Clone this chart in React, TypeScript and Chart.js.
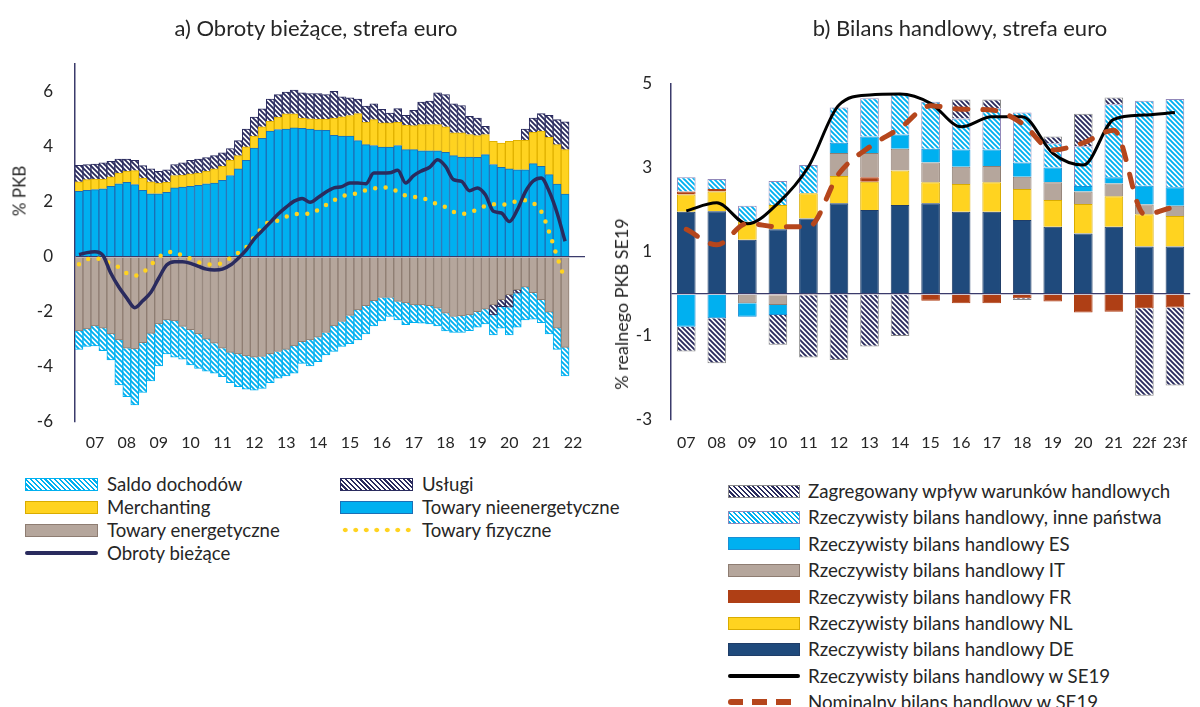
import React, { useEffect, useRef } from 'react';
import { Chart, registerables } from 'chart.js';
Chart.register(...registerables);

const FONT = 'Lato, "Open Sans", sans-serif';
const TEXT = '#262626';
const NAVY = '#2A2B5E';
const CYAN = '#00B0F0';
const YELLOW = '#FFD320';
const TAUPE = '#B5A69C';
const RUST = '#AF3F15';
const DEBLUE = '#1F4A7C';
const AXIS = '#3B3B6B';

// ---------- Panel a) ----------
const LEFT_YEAR_LABELS = ['07', '08', '09', '10', '11', '12', '13', '14', '15', '16', '17', '18', '19', '20', '21', '22'];
const QUARTERS = ['Q1', 'Q2', 'Q3', 'Q4'];
const LEFT_CATEGORIES = LEFT_YEAR_LABELS.flatMap((y) => QUARTERS.map((q) => `${y} ${q}`));
const LEFT_Y_TICKS = [-6, -4, -2, 0, 2, 4, 6];

const NON_ENERGY = [2.38, 2.41, 2.44, 2.47, 2.56, 2.65, 2.70, 2.62, 2.41, 2.29, 2.29, 2.34, 2.50, 2.53, 2.56, 2.59, 2.65, 2.68, 2.78, 2.95, 3.19, 3.50, 3.95, 4.30, 4.56, 4.62, 4.64, 4.68, 4.66, 4.64, 4.60, 4.59, 4.41, 4.38, 4.38, 4.22, 4.07, 4.04, 3.98, 3.98, 4.04, 3.89, 3.89, 3.85, 3.85, 3.85, 3.79, 3.67, 3.62, 3.62, 3.61, 3.71, 3.35, 3.25, 3.19, 3.16, 3.16, 3.38, 3.28, 2.98, 2.64, 2.28];
const MERCHANTING = [0.34, 0.39, 0.38, 0.35, 0.34, 0.39, 0.40, 0.51, 0.45, 0.43, 0.39, 0.36, 0.45, 0.44, 0.45, 0.45, 0.45, 0.51, 0.50, 0.55, 0.48, 0.49, 0.43, 0.42, 0.36, 0.45, 0.55, 0.51, 0.38, 0.37, 0.40, 0.41, 0.63, 0.70, 0.75, 0.98, 0.81, 0.94, 0.88, 0.88, 0.84, 0.89, 0.87, 0.95, 0.95, 0.95, 0.93, 0.83, 0.88, 0.82, 0.79, 0.73, 0.84, 0.88, 1.00, 1.07, 1.07, 1.14, 1.28, 1.36, 1.43, 1.61];
const SERVICES = [0.60, 0.55, 0.55, 0.59, 0.57, 0.51, 0.45, 0.37, 0.45, 0.47, 0.42, 0.46, 0.40, 0.44, 0.49, 0.51, 0.50, 0.48, 0.49, 0.43, 0.55, 0.65, 0.69, 0.65, 0.81, 0.82, 0.79, 0.86, 0.91, 0.92, 0.93, 0.89, 0.97, 0.73, 0.64, 0.53, 0.59, 0.57, 0.49, 0.36, 0.50, 0.36, 0.56, 0.82, 0.85, 1.15, 1.17, 1.05, 0.99, 0.66, 0.64, 0.30, -0.36, -0.25, -0.45, -0.12, 0.41, 0.52, 0.64, 0.80, 0.91, 1.01];
const ENERGY = [-2.69, -2.62, -2.51, -2.59, -2.80, -3.02, -3.32, -3.35, -3.12, -2.78, -2.44, -2.29, -2.33, -2.53, -2.65, -2.80, -2.99, -3.14, -3.32, -3.47, -3.53, -3.60, -3.65, -3.62, -3.53, -3.44, -3.36, -3.24, -3.08, -3.02, -2.92, -2.75, -2.51, -2.35, -2.13, -1.93, -1.78, -1.59, -1.48, -1.48, -1.62, -1.68, -1.75, -1.75, -1.78, -1.87, -2.05, -2.17, -2.15, -2.11, -1.99, -1.90, -1.75, -1.56, -1.38, -1.20, -1.10, -1.30, -1.56, -2.01, -2.59, -3.29];
const PRIMARY_INCOME = [-0.67, -0.64, -0.73, -0.82, -0.95, -1.63, -1.76, -2.03, -1.81, -1.73, -1.52, -1.24, -1.32, -1.19, -1.28, -1.25, -1.16, -1.09, -1.03, -1.10, -1.19, -1.21, -1.19, -1.16, -1.04, -0.97, -0.97, -0.99, -0.79, -0.94, -0.89, -0.81, -0.93, -0.91, -1.03, -1.09, -1.02, -0.92, -0.85, -0.69, -0.67, -0.79, -0.64, -0.66, -0.66, -0.64, -0.64, -0.58, -0.60, -0.57, -0.57, -0.54, -0.73, -0.78, -1.01, -1.24, -1.19, -0.97, -0.83, -0.79, -0.77, -1.04];
const CURRENT_ACCOUNT = [0.08, 0.15, 0.18, 0.05, -0.6, -1.1, -1.5, -1.85, -1.6, -1.3, -0.78, -0.3, -0.18, -0.18, -0.24, -0.35, -0.45, -0.48, -0.45, -0.3, -0.05, 0.25, 0.65, 0.95, 1.25, 1.55, 1.8, 2.02, 2.12, 1.98, 2.15, 2.35, 2.5, 2.55, 2.68, 2.68, 2.65, 3.04, 3.04, 3.05, 3.14, 2.68, 2.95, 3.12, 3.25, 3.52, 3.28, 2.8, 2.74, 2.4, 2.5, 2.25, 1.65, 1.59, 1.28, 1.7, 2.35, 2.75, 2.86, 2.38, 1.59, 0.56];
const PHYSICAL_GOODS = [-0.27, -0.1, -0.05, -0.12, -0.25, -0.38, -0.6, -0.68, -0.58, -0.3, -0.02, 0.15, 0.18, 0.02, -0.07, -0.2, -0.27, -0.28, -0.22, -0.05, 0.15, 0.35, 0.72, 1.06, 1.28, 1.31, 1.45, 1.55, 1.56, 1.56, 1.7, 1.88, 2.05, 2.2, 2.25, 2.32, 2.42, 2.48, 2.52, 2.51, 2.36, 2.22, 2.18, 2.14, 2.04, 1.9, 1.8, 1.63, 1.56, 1.6, 1.72, 1.85, 1.91, 1.88, 1.95, 2.02, 2.05, 1.95, 1.65, 0.9, 0.0, -0.85];

// ---------- Panel b) ----------
const RIGHT_YEARS = ['07', '08', '09', '10', '11', '12', '13', '14', '15', '16', '17', '18', '19', '20', '21', '22f', '23f'];
const RIGHT_Y_TICKS = [-3, -1, 0, 1, 3, 5];
const TB_DE = [1.96, 1.97, 1.29, 1.54, 1.80, 2.16, 2.00, 2.12, 2.16, 1.96, 1.96, 1.76, 1.60, 1.44, 1.60, 1.13, 1.13];
const TB_NL = [0.41, 0.47, 0.43, 0.58, 0.60, 0.65, 0.67, 0.82, 0.50, 0.66, 0.70, 0.74, 0.64, 0.70, 0.73, 0.77, 0.73];
const TB_FR = [0.07, 0.06, -0.02, -0.03, -0.03, 0.0, 0.11, -0.02, -0.16, -0.22, -0.22, -0.10, -0.18, -0.44, -0.42, -0.34, -0.32];
const TB_IT = [0, 0, -0.20, -0.23, 0, 0.55, 0.58, 0.52, 0.47, 0.41, 0.39, 0.29, 0.42, 0.30, 0.30, 0.23, 0.24];
const TB_ES = [-0.78, -0.58, -0.32, -0.24, 0, 0.24, 0.39, 0.34, 0.33, 0.41, 0.39, 0.34, 0.35, 0.13, 0.15, 0.45, 0.44];
const TB_OTHERS = [0.34, 0.24, 0.38, 0.57, 0.67, 0.84, 0.91, 0.96, 1.12, 0.74, 0.98, 1.19, 0.58, 0.95, 1.74, 2.02, 2.10];
const TOT_EFFECT = [-0.59, -1.07, 0, -0.71, -1.48, -1.57, -1.25, -0.98, 0, 0.45, 0.21, -0.04, 0.16, 0.77, 0.16, -2.08, -1.86];
const REAL_SE19 = [1.98, 2.17, 1.67, 2.16, 3.03, 4.5, 4.74, 4.76, 4.54, 3.98, 4.22, 4.22, 3.35, 3.07, 4.16, 4.26, 4.32];
const NOMINAL_SE19 = [1.54, 1.17, 1.68, 1.6, 1.6, 2.87, 3.5, 3.95, 4.48, 4.4, 4.38, 4.06, 3.43, 3.6, 3.9, 1.9, 2.08];

function makeHatch(fg: string, bg: string, size = 5, lw = 1.9) {
  const c = document.createElement('canvas');
  c.width = size;
  c.height = size;
  const g = c.getContext('2d')!;
  g.fillStyle = bg;
  g.fillRect(0, 0, size, size);
  g.strokeStyle = fg;
  g.lineWidth = lw;
  g.beginPath();
  g.moveTo(-1, -1);
  g.lineTo(size + 1, size + 1);
  g.moveTo(-2, size - 2);
  g.lineTo(2, size + 2);
  g.moveTo(size - 2, -2);
  g.lineTo(size + 2, 2);
  g.stroke();
  return g.createPattern(c, 'repeat')!;
}

const zeroGrid = (c: any) => (c.tick && c.tick.value === 0 ? AXIS : 'rgba(0,0,0,0)');

function LeftChart() {
  const ref = useRef<HTMLCanvasElement>(null);
  useEffect(() => {
    const hatchCyan = makeHatch(CYAN, '#ffffff');
    const hatchNavy = makeHatch(NAVY, '#ffffff');
    const bar = { type: 'bar', barPercentage: 1, categoryPercentage: 1, borderWidth: 1, stack: 'cab', order: 1 };
    const chart = new Chart(ref.current!, {
      type: 'bar',
      data: {
        labels: LEFT_CATEGORIES,
        datasets: [
          { ...bar, label: 'Towary nieenergetyczne', data: NON_ENERGY, backgroundColor: CYAN, borderColor: '#1C6FB5' },
          { ...bar, label: 'Towary energetyczne', data: ENERGY, backgroundColor: TAUPE, borderColor: '#8E7D72' },
          { ...bar, label: 'Merchanting', data: MERCHANTING, backgroundColor: YELLOW, borderColor: '#E0B100' },
          { ...bar, label: 'Usługi', data: SERVICES, backgroundColor: hatchNavy, borderColor: NAVY },
          { ...bar, label: 'Saldo dochodów', data: PRIMARY_INCOME, backgroundColor: hatchCyan, borderColor: CYAN },
          { type: 'line', label: 'Obroty bieżące', data: CURRENT_ACCOUNT, borderColor: NAVY, borderWidth: 3.5, pointRadius: 0, cubicInterpolationMode: 'monotone', stack: 'ca', order: 0, fill: false },
          { type: 'line', label: 'Towary fizyczne', data: PHYSICAL_GOODS, borderColor: YELLOW, borderWidth: 4.5, borderDash: [0, 10.5], borderCapStyle: 'round', pointRadius: 0, cubicInterpolationMode: 'monotone', stack: 'tf', order: 0, fill: false },
        ] as any,
      },
      options: {
        responsive: false,
        animation: false,
        devicePixelRatio: 1,
        layout: { padding: { left: 0, right: 15, top: 64, bottom: 0 } },
        plugins: { legend: { display: false }, tooltip: { enabled: false } },
        scales: {
          x: {
            stacked: true,
            grid: { display: false, drawTicks: false },
            border: { display: false },
            afterFit: (s: any) => { s.height = 48; },
            ticks: {
              autoSkip: false, maxRotation: 0, minRotation: 0, padding: 11, color: TEXT,
              font: { family: FONT, size: 16 },
              callback: (_v: any, i: number) => (i % 4 === 2 ? LEFT_YEAR_LABELS[(i - 2) / 4] : ''),
            },
          },
          y: {
            stacked: true, min: -6, max: 7, z: 1,
            afterBuildTicks: (s: any) => { s.ticks = LEFT_Y_TICKS.map((v) => ({ value: v })); },
            afterFit: (s: any) => { s.width = 75; },
            grid: { drawTicks: false, color: zeroGrid, lineWidth: 1.3 },
            border: { display: true, color: AXIS, width: 1.5 },
            ticks: { padding: 22, color: TEXT, font: { family: FONT, size: 17 } },
          },
        },
      } as any,
    });
    return () => chart.destroy();
  }, []);
  return <canvas ref={ref} width={600} height={470} style={{ position: 'absolute', left: 0, top: 0 }} />;
}

function RightChart() {
  const ref = useRef<HTMLCanvasElement>(null);
  useEffect(() => {
    const hatchCyan = makeHatch(CYAN, '#ffffff');
    const hatchNavy = makeHatch(NAVY, '#ffffff');
    const bar = { type: 'bar', barPercentage: 0.61, categoryPercentage: 1, borderWidth: 1, stack: 'tb', order: 1 };
    const chart = new Chart(ref.current!, {
      type: 'bar',
      data: {
        labels: RIGHT_YEARS,
        datasets: [
          { ...bar, label: 'Rzeczywisty bilans handlowy DE', data: TB_DE, backgroundColor: DEBLUE, borderColor: '#1F3D68' },
          { ...bar, label: 'Rzeczywisty bilans handlowy NL', data: TB_NL, backgroundColor: YELLOW, borderColor: '#D9AC00' },
          { ...bar, label: 'Rzeczywisty bilans handlowy FR', data: TB_FR, backgroundColor: RUST, borderColor: RUST },
          { ...bar, label: 'Rzeczywisty bilans handlowy IT', data: TB_IT, backgroundColor: TAUPE, borderColor: '#8E7D72' },
          { ...bar, label: 'Rzeczywisty bilans handlowy ES', data: TB_ES, backgroundColor: CYAN, borderColor: '#1A8FD4' },
          { ...bar, label: 'Rzeczywisty bilans handlowy, inne państwa', data: TB_OTHERS, backgroundColor: hatchCyan, borderColor: '#9188BA' },
          { ...bar, label: 'Zagregowany wpływ warunków handlowych', data: TOT_EFFECT, backgroundColor: hatchNavy, borderColor: '#8A8A8A' },
          { type: 'line', label: 'Rzeczywisty bilans handlowy w SE19', data: REAL_SE19, borderColor: '#000000', borderWidth: 3, pointRadius: 0, cubicInterpolationMode: 'monotone', stack: 'l1', order: 0, fill: false },
          { type: 'line', label: 'Nominalny bilans handlowy w SE19', data: NOMINAL_SE19, borderColor: '#B5461C', borderWidth: 5, borderDash: [13, 15], borderCapStyle: 'round', pointRadius: 0, cubicInterpolationMode: 'monotone', stack: 'l2', order: -1, fill: false },
        ] as any,
      },
      options: {
        responsive: false,
        animation: false,
        devicePixelRatio: 1,
        layout: { padding: { left: 0, right: 0, top: 84, bottom: 0 } },
        plugins: { legend: { display: false }, tooltip: { enabled: false } },
        scales: {
          x: {
            stacked: true,
            grid: { display: false, drawTicks: false },
            border: { display: false },
            afterFit: (s: any) => { s.height = 50; },
            ticks: { autoSkip: false, maxRotation: 0, minRotation: 0, padding: 13, color: TEXT, font: { family: FONT, size: 16 } },
          },
          y: {
            stacked: true, min: -3, max: 5, z: 1,
            afterBuildTicks: (s: any) => { s.ticks = RIGHT_Y_TICKS.map((v) => ({ value: v })); },
            afterFit: (s: any) => { s.width = 71; },
            grid: { drawTicks: false, color: zeroGrid, lineWidth: 1.3 },
            border: { display: true, color: AXIS, width: 1.5 },
            ticks: { padding: 19, color: TEXT, font: { family: FONT, size: 17 }, callback: (v: any) => (v === 0 ? '' : String(v)) },
          },
        },
      } as any,
    });
    return () => chart.destroy();
  }, []);
  return <canvas ref={ref} width={600} height={470} style={{ position: 'absolute', left: 600, top: 0 }} />;
}

const hatchCss = (c: string) => `repeating-linear-gradient(45deg, ${c} 0px, ${c} 1.6px, #ffffff 1.6px, #ffffff 3.4px)`;

type Sw = { kind: 'box' | 'line' | 'dots' | 'dash'; bg?: string; border?: string; color?: string };

function Swatch({ s, x, y, w, h }: { s: Sw; x: number; y: number; w: number; h: number }) {
  const base: React.CSSProperties = { position: 'absolute', left: x, boxSizing: 'border-box' };
  if (s.kind === 'box') {
    return <div style={{ ...base, top: y - h / 2, width: w, height: h, background: s.bg, border: `1px solid ${s.border}` }} />;
  }
  if (s.kind === 'line') {
    return <div style={{ ...base, top: y - 2, width: w, height: 4, background: s.color, borderRadius: 2 }} />;
  }
  if (s.kind === 'dots') {
    return <div style={{ ...base, top: y - 3, width: w, height: 6, background: `radial-gradient(circle, ${s.color} 2px, rgba(255,255,255,0) 2.6px) 0 0 / 10.5px 6px repeat-x` }} />;
  }
  return <div style={{ ...base, top: y - 3, width: w, height: 6, background: `repeating-linear-gradient(90deg, ${s.color} 0px, ${s.color} 15px, rgba(255,255,255,0) 15px, rgba(255,255,255,0) 24px)`, borderRadius: 3 }} />;
}

const LEFT_LEGEND: { label: string; s: Sw; col: number; row: number }[] = [
  { label: 'Saldo dochodów', s: { kind: 'box', bg: hatchCss(CYAN), border: CYAN }, col: 0, row: 0 },
  { label: 'Usługi', s: { kind: 'box', bg: hatchCss(NAVY), border: NAVY }, col: 1, row: 0 },
  { label: 'Merchanting', s: { kind: 'box', bg: YELLOW, border: '#D9AC00' }, col: 0, row: 1 },
  { label: 'Towary nieenergetyczne', s: { kind: 'box', bg: CYAN, border: '#1C6FB5' }, col: 1, row: 1 },
  { label: 'Towary energetyczne', s: { kind: 'box', bg: TAUPE, border: '#8E7D72' }, col: 0, row: 2 },
  { label: 'Towary fizyczne', s: { kind: 'dots', color: YELLOW }, col: 1, row: 2 },
  { label: 'Obroty bieżące', s: { kind: 'line', color: NAVY }, col: 0, row: 3 },
];
const LEFT_ROWS = [484, 507, 530, 553];
const LEFT_COLS = [25, 340];

const RIGHT_LEGEND: { label: string; s: Sw }[] = [
  { label: 'Zagregowany wpływ warunków handlowych', s: { kind: 'box', bg: hatchCss(NAVY), border: '#8A8A8A' } },
  { label: 'Rzeczywisty bilans handlowy, inne państwa', s: { kind: 'box', bg: hatchCss(CYAN), border: '#9188BA' } },
  { label: 'Rzeczywisty bilans handlowy ES', s: { kind: 'box', bg: CYAN, border: '#1A8FD4' } },
  { label: 'Rzeczywisty bilans handlowy IT', s: { kind: 'box', bg: TAUPE, border: '#8E7D72' } },
  { label: 'Rzeczywisty bilans handlowy FR', s: { kind: 'box', bg: RUST, border: RUST } },
  { label: 'Rzeczywisty bilans handlowy NL', s: { kind: 'box', bg: YELLOW, border: '#D9AC00' } },
  { label: 'Rzeczywisty bilans handlowy DE', s: { kind: 'box', bg: DEBLUE, border: '#1F3D68' } },
  { label: 'Rzeczywisty bilans handlowy w SE19', s: { kind: 'line', color: '#000000' } },
  { label: 'Nominalny bilans handlowy w SE19', s: { kind: 'dash', color: '#B5461C' } },
];
const RIGHT_ROW0 = 491;
const RIGHT_ROW_STEP = 26.4;

export default function App() {
  const txt: React.CSSProperties = { position: 'absolute', fontFamily: FONT, color: TEXT, whiteSpace: 'nowrap', lineHeight: 1 };
  return (
    <div style={{ position: 'absolute', left: 0, top: 0, width: 1200, height: 707, background: '#ffffff', overflow: 'hidden' }}>
      <LeftChart />
      <RightChart />
      <div style={{ ...txt, left: 316, top: 28, fontSize: 22, transform: 'translate(-50%, -50%)' }}>a) Obroty bieżące, strefa euro</div>
      <div style={{ ...txt, left: 960, top: 28, fontSize: 22, transform: 'translate(-50%, -50%)' }}>b) Bilans handlowy, strefa euro</div>
      <div style={{ ...txt, left: 19, top: 191, fontSize: 17, transform: 'translate(-50%, -50%) rotate(-90deg)' }}>% PKB</div>
      <div style={{ ...txt, left: 621, top: 304, fontSize: 18, transform: 'translate(-50%, -50%) rotate(-90deg)' }}>% realnego PKB SE19</div>
      {LEFT_LEGEND.map((it) => (
        <React.Fragment key={it.label}>
          <Swatch s={it.s} x={LEFT_COLS[it.col]} y={LEFT_ROWS[it.row]} w={73} h={13} />
          <div style={{ ...txt, left: LEFT_COLS[it.col] + 82, top: LEFT_ROWS[it.row], fontSize: 18.6, transform: 'translateY(-50%)' }}>{it.label}</div>
        </React.Fragment>
      ))}
      {RIGHT_LEGEND.map((it, i) => (
        <React.Fragment key={it.label}>
          <Swatch s={it.s} x={728} y={RIGHT_ROW0 + i * RIGHT_ROW_STEP} w={72} h={13} />
          <div style={{ ...txt, left: 808, top: RIGHT_ROW0 + i * RIGHT_ROW_STEP, fontSize: 18.7, transform: 'translateY(-50%)' }}>{it.label}</div>
        </React.Fragment>
      ))}
    </div>
  );
}
